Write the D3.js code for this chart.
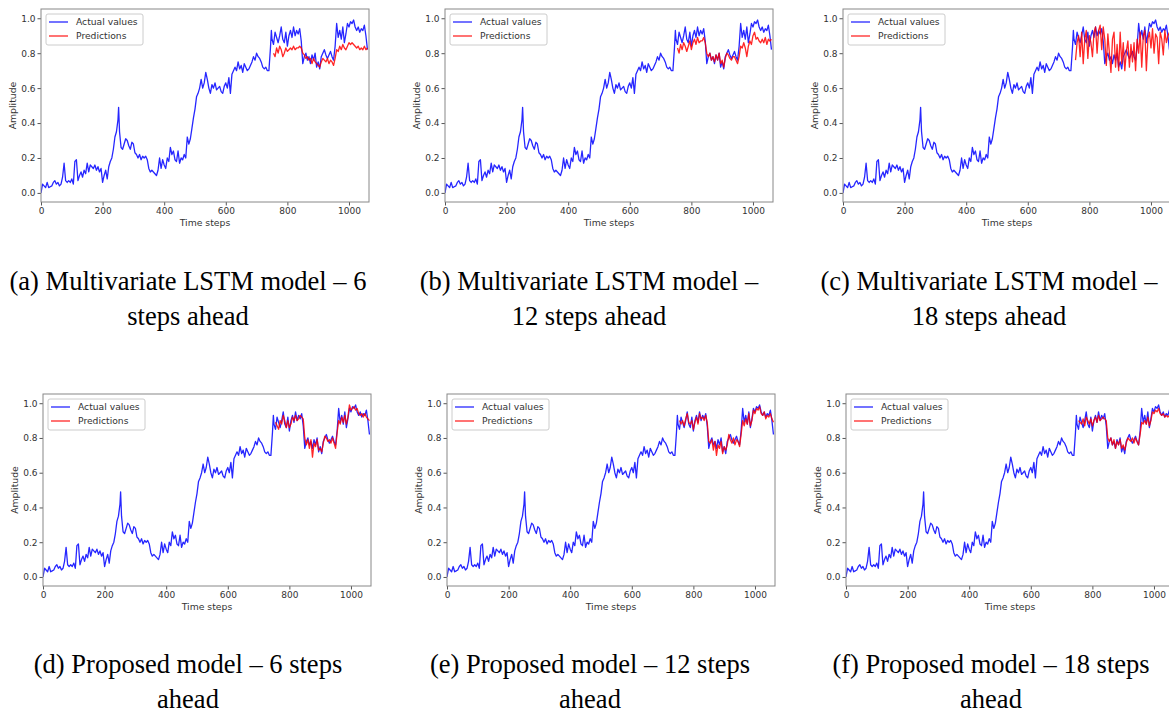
<!DOCTYPE html>
<html><head><meta charset="utf-8">
<script src="https://cdn.jsdelivr.net/npm/d3@7"></script>
<style>body{margin:0;background:#fff}svg{display:block}</style>
</head><body>
<svg id="chart" width="1169" height="715"></svg>
<script>
// ---- data ----
const actualSteps = [0,5,10,15,20,25,30,35,40,45,50,55,60,65,70,75,80,85,90,95,100,105,110,115,120,125,130,135,140,145,150,155,160,165,170,175,180,185,190,195,200,205,210,215,220,225,230,235,240,245,250,252,255,260,265,270,275,280,285,290,295,300,305,310,315,320,325,330,335,340,345,350,355,360,365,370,375,380,385,390,395,400,405,410,415,420,425,430,435,440,445,450,455,460,465,470,475,480,485,490,495,500,505,510,515,520,525,530,535,540,545,550,555,560,565,570,575,580,585,590,595,600,605,610,615,620,625,630,635,640,645,650,655,660,665,670,675,680,685,690,695,700,705,710,715,720,725,730,735,740,745,748,750,755,760,765,770,775,780,785,790,795,800,805,810,815,820,825,830,835,840,845,850,855,860,865,870,875,880,885,890,895,900,905,910,915,920,925,930,935,940,945,950,955,960,965,970,975,980,985,990,995,1000,1005,1010,1015,1020,1025,1030,1035,1040,1045,1050,1055,1060];
const actualValues = [0.0,0.05,0.04,0.03,0.06,0.03,0.035,0.04,0.06,0.07,0.05,0.06,0.04,0.05,0.09,0.17,0.07,0.06,0.07,0.06,0.08,0.05,0.18,0.19,0.07,0.1,0.12,0.09,0.13,0.11,0.17,0.12,0.16,0.15,0.14,0.16,0.13,0.15,0.12,0.14,0.06,0.1,0.13,0.08,0.15,0.18,0.2,0.25,0.32,0.35,0.42,0.49,0.35,0.26,0.25,0.28,0.31,0.3,0.27,0.25,0.29,0.28,0.23,0.22,0.2,0.22,0.19,0.21,0.2,0.21,0.19,0.14,0.12,0.13,0.12,0.11,0.1,0.13,0.2,0.14,0.19,0.16,0.14,0.2,0.18,0.26,0.22,0.24,0.19,0.18,0.24,0.17,0.2,0.19,0.22,0.2,0.32,0.28,0.31,0.37,0.43,0.48,0.55,0.57,0.6,0.65,0.6,0.63,0.69,0.65,0.6,0.57,0.62,0.6,0.63,0.59,0.6,0.61,0.58,0.57,0.61,0.63,0.6,0.66,0.57,0.68,0.7,0.72,0.7,0.75,0.71,0.73,0.69,0.74,0.72,0.7,0.71,0.73,0.75,0.78,0.76,0.8,0.78,0.77,0.75,0.72,0.71,0.72,0.7,0.7,0.83,0.93,0.88,0.85,0.92,0.89,0.86,0.9,0.95,0.88,0.86,0.92,0.84,0.9,0.93,0.89,0.95,0.9,0.93,0.91,0.94,0.87,0.74,0.78,0.8,0.76,0.78,0.74,0.79,0.76,0.8,0.72,0.75,0.71,0.78,0.8,0.82,0.79,0.77,0.79,0.81,0.78,0.76,0.84,0.97,0.89,0.93,0.88,0.95,0.86,0.91,0.97,0.95,0.98,0.97,0.99,0.95,0.93,0.95,0.92,0.94,0.93,0.96,0.9,0.82];

const predSteps = [755,760,765,770,775,780,785,790,795,800,805,810,815,820,825,830,835,840,845,850,855,860,865,870,875,880,885,890,895,900,905,910,915,920,925,930,935,940,945,950,955,960,965,970,975,980,985,990,995,1000,1005,1010,1015,1020,1025,1030,1035,1040,1045,1050,1055,1060];
const predA = [0.8,0.78,0.83,0.8,0.84,0.82,0.78,0.8,0.83,0.81,0.82,0.83,0.82,0.84,0.82,0.83,0.83,0.84,0.83,0.8,0.79,0.77,0.78,0.76,0.77,0.74,0.77,0.75,0.74,0.73,0.72,0.75,0.77,0.76,0.75,0.77,0.74,0.76,0.75,0.73,0.77,0.82,0.81,0.84,0.82,0.85,0.83,0.82,0.84,0.86,0.85,0.86,0.85,0.84,0.83,0.84,0.82,0.83,0.82,0.84,0.82,0.83];
const predB = [0.83,0.8,0.85,0.82,0.86,0.84,0.81,0.84,0.87,0.82,0.86,0.88,0.85,0.89,0.86,0.87,0.87,0.89,0.86,0.8,0.78,0.8,0.76,0.78,0.75,0.79,0.76,0.8,0.74,0.76,0.72,0.77,0.8,0.79,0.77,0.76,0.78,0.78,0.76,0.74,0.78,0.84,0.83,0.86,0.83,0.78,0.84,0.87,0.85,0.9,0.92,0.88,0.89,0.87,0.86,0.88,0.86,0.89,0.85,0.88,0.87,0.88];
const predC = [0.76,0.86,0.9,0.78,0.92,0.74,0.88,0.93,0.77,0.9,0.86,0.78,0.92,0.95,0.8,0.93,0.96,0.82,0.95,0.88,0.73,0.91,0.8,0.69,0.88,0.92,0.72,0.85,0.7,0.92,0.74,0.86,0.7,0.81,0.87,0.72,0.85,0.75,0.86,0.7,0.88,0.8,0.92,0.72,0.9,0.93,0.7,0.88,0.92,0.83,0.94,0.8,0.91,0.89,0.74,0.92,0.88,0.79,0.93,0.86,0.9,0.92];
const predD = [0.89,0.87,0.85,0.9,0.88,0.93,0.9,0.86,0.9,0.86,0.88,0.92,0.9,0.93,0.9,0.91,0.93,0.92,0.91,0.8,0.76,0.79,0.74,0.79,0.69,0.77,0.75,0.79,0.73,0.74,0.72,0.77,0.81,0.8,0.78,0.79,0.77,0.8,0.77,0.74,0.83,0.9,0.88,0.92,0.89,0.93,0.88,0.92,0.99,0.96,0.97,0.98,0.96,0.97,0.94,0.93,0.94,0.92,0.94,0.92,0.91,0.9];
const predE = [0.9,0.88,0.9,0.87,0.91,0.94,0.89,0.88,0.9,0.85,0.89,0.92,0.88,0.94,0.91,0.92,0.9,0.93,0.89,0.78,0.77,0.79,0.73,0.78,0.7,0.76,0.74,0.78,0.71,0.75,0.73,0.76,0.82,0.79,0.77,0.8,0.76,0.79,0.78,0.75,0.82,0.9,0.87,0.91,0.88,0.94,0.87,0.9,0.96,0.94,0.97,0.96,0.98,0.94,0.93,0.95,0.91,0.93,0.92,0.94,0.91,0.89];
const predF = [0.9,0.89,0.88,0.91,0.87,0.92,0.9,0.88,0.91,0.87,0.9,0.92,0.89,0.93,0.9,0.91,0.92,0.91,0.9,0.8,0.78,0.8,0.76,0.79,0.74,0.78,0.76,0.79,0.74,0.76,0.73,0.77,0.8,0.79,0.78,0.8,0.77,0.8,0.78,0.76,0.82,0.89,0.88,0.9,0.88,0.92,0.87,0.9,0.95,0.94,0.96,0.95,0.97,0.94,0.93,0.94,0.92,0.93,0.92,0.93,0.91,0.9];

const xTicks = [0,200,400,600,800,1000];
const yTicks = [0.0,0.2,0.4,0.6,0.8,1.0];
const legendLabels = ["Actual values","Predictions"];
const captions = [
  ["(a) Multivariate LSTM model – 6","steps ahead"],
  ["(b) Multivariate LSTM model –","12 steps ahead"],
  ["(c) Multivariate LSTM model –","18 steps ahead"],
  ["(d) Proposed model – 6 steps","ahead"],
  ["(e) Proposed model – 12 steps","ahead"],
  ["(f) Proposed model – 18 steps","ahead"]
];
const predictions = [predA,predB,predC,predD,predE,predF];

// ---- layout ----
const panels = [
  {x0:41, x1:369, y0:9,   y1:202, cx:188, cy:[290,325]},
  {x0:445,x1:773, y0:9,   y1:202, cx:589, cy:[290,325]},
  {x0:843,x1:1171,y0:9,   y1:202, cx:989, cy:[290,325]},
  {x0:43, x1:371, y0:394, y1:586, cx:188, cy:[673,708]},
  {x0:447,x1:775, y0:394, y1:586, cx:590, cy:[673,708]},
  {x0:846,x1:1174,y0:394, y1:586, cx:991, cy:[673,708]}
];

const svg = d3.select("#chart");
const actual = actualSteps.map((s,i)=>({s, v:actualValues[i]}));
const FONT = "DejaVu Sans";

panels.forEach((p,pi)=>{
  const x = d3.scaleLinear().domain([0,1065]).range([p.x0,p.x1]);
  const y = d3.scaleLinear().domain([-0.052,1.053]).range([p.y1,p.y0]);
  const g = svg.append("g");
  const clipId = "clip"+pi;
  g.append("clipPath").attr("id",clipId).append("rect")
    .attr("x",p.x0).attr("y",p.y0).attr("width",p.x1-p.x0).attr("height",p.y1-p.y0);

  const line = d3.line().x(d=>x(d.s)).y(d=>y(d.v));
  const plot = g.append("g").attr("clip-path",`url(#${clipId})`);
  plot.append("path").datum(actual).attr("d",line)
    .attr("fill","none").attr("stroke","#0000ff").attr("stroke-width",1.3).attr("stroke-opacity",0.85)
    .attr("stroke-linejoin","round");
  const pred = predSteps.map((s,i)=>({s, v:predictions[pi][i]}));
  plot.append("path").datum(pred).attr("d",line)
    .attr("fill","none").attr("stroke","#ff0000").attr("stroke-width",1.3).attr("stroke-opacity",0.85)
    .attr("stroke-linejoin","round");

  // axes
  const xa = g.append("g").attr("transform",`translate(0,${p.y1})`)
    .call(d3.axisBottom(x).tickValues(xTicks).tickSize(3.5).tickPadding(2).tickFormat(d3.format("d")));
  const ya = g.append("g").attr("transform",`translate(${p.x0},0)`)
    .call(d3.axisLeft(y).tickValues(yTicks).tickSize(3.5).tickPadding(2).tickFormat(d3.format(".1f")));
  [xa,ya].forEach(a=>{
    a.select(".domain").remove();
    a.selectAll("line").attr("stroke","#555");
    a.selectAll("text").attr("fill","#333").style("font-family",FONT).style("font-size","9px");
  });
  g.append("rect").attr("x",p.x0).attr("y",p.y0).attr("width",p.x1-p.x0).attr("height",p.y1-p.y0)
    .attr("fill","none").attr("stroke","#888").attr("stroke-width",1);

  g.append("text").attr("x",(p.x0+p.x1)/2).attr("y",p.y1+24).attr("text-anchor","middle")
    .style("font-family",FONT).style("font-size","9.3px").attr("fill","#333").text("Time steps");
  g.append("text").attr("transform",`translate(${p.x0-25},${(p.y0+p.y1)/2}) rotate(-90)`)
    .attr("text-anchor","middle").style("font-family",FONT).style("font-size","9.3px")
    .attr("fill","#333").text("Amplitude");

  // legend
  const lg = g.append("g").attr("transform",`translate(${p.x0+5},${p.y0+5})`);
  lg.append("rect").attr("width",97).attr("height",31).attr("rx",2)
    .attr("fill","#fff").attr("fill-opacity",0.85).attr("stroke","#ccc");
  ["#0000ff","#ff0000"].forEach((c,i)=>{
    lg.append("line").attr("x1",3).attr("x2",22).attr("y1",8+i*14).attr("y2",8+i*14)
      .attr("stroke",c).attr("stroke-width",1.3).attr("stroke-opacity",0.85);
    lg.append("text").attr("x",30).attr("y",11.3+i*14).style("font-family",FONT)
      .style("font-size","9.2px").attr("fill","#333").text(legendLabels[i]);
  });

  // caption
  captions[pi].forEach((t,i)=>{
    svg.append("text").attr("x",p.cx).attr("y",p.cy[i]).attr("text-anchor","middle")
      .style("font-family","Liberation Serif").style("font-size","26.5px").attr("fill","#000").text(t);
  });
});
</script>
</body></html>
